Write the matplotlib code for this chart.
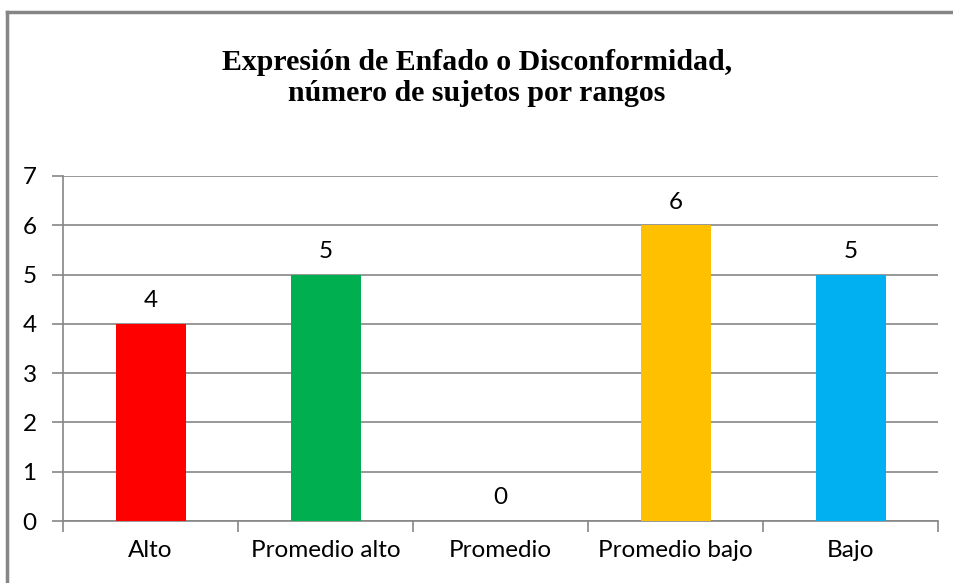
import matplotlib
matplotlib.use("Agg")
import matplotlib.pyplot as plt
from matplotlib.lines import Line2D

categories = ["Alto", "Promedio alto", "Promedio", "Promedio bajo", "Bajo"]
values = [4, 5, 0, 6, 5]
bar_colors = ["#FF0000", "#00B050", "#A5A5A5", "#FFC000", "#00B0F0"]
yticks = [0, 1, 2, 3, 4, 5, 6, 7]
title = "Expresión de Enfado o Disconformidad,\nnúmero de sujetos por rangos"

W, H = 954, 583
fig = plt.figure(figsize=(W / 100, H / 100), dpi=100)
fig.patch.set_facecolor("white")

# outer frame: only the top and left edges are visible in the reference
fx, fy = 7.5 / W, 1 - 11.5 / H
fig.add_artist(Line2D([fx, 1.0], [fy, fy], transform=fig.transFigure,
                      color="#868686", linewidth=2.5))
fig.add_artist(Line2D([fx, fx], [0.0, fy], transform=fig.transFigure,
                      color="#868686", linewidth=2.5))

left, right, top, bottom = 63, 938, 176, 521
ax = fig.add_axes([left / W, 1 - bottom / H, (right - left) / W, (bottom - top) / H])

x = list(range(len(categories)))
ax.bar(x, values, width=0.4, color=bar_colors, zorder=3)
ax.set_xlim(-0.5, len(categories) - 0.5)
ax.set_ylim(0, 7)
ax.set_yticks(yticks)
ax.set_yticklabels([str(v) for v in yticks])
ax.yaxis.grid(True, color="#868686", linewidth=1.2, zorder=0)
ax.set_axisbelow(True)

for s in ["top", "right"]:
    ax.spines[s].set_visible(False)
for s in ["left", "bottom"]:
    ax.spines[s].set_color("#868686")
    ax.spines[s].set_linewidth(1.2)

ax.set_xticks([i - 0.5 for i in range(len(categories) + 1)], minor=False)
ax.set_xticklabels([])
ax.set_xticks(x, minor=True)
ax.set_xticklabels(categories, minor=True)
ax.tick_params(axis="x", which="major", length=8, width=1.2, color="#868686", direction="out")
ax.tick_params(axis="x", which="minor", length=0, pad=14)
ax.tick_params(axis="y", length=8, width=1.2, color="#868686", direction="out", pad=11)

fam = ["Lato", "DejaVu Sans"]
fs = 17.5
for lbl in ax.get_xticklabels(minor=True) + ax.get_yticklabels():
    lbl.set_fontfamily(fam)
    lbl.set_fontsize(fs)
    lbl.set_color("black")

for xi, v in zip(x, values):
    ax.annotate(str(v), (xi, v), xytext=(0, 9), textcoords="offset points",
                ha="center", va="bottom", family=fam, fontsize=fs)

fig.text(0.5, 1 - 78 / H, title, ha="center", va="center",
         family=["Liberation Serif"], fontweight="bold", fontsize=21.5,
         linespacing=1.15)

fig.savefig("out.png", dpi=100)
